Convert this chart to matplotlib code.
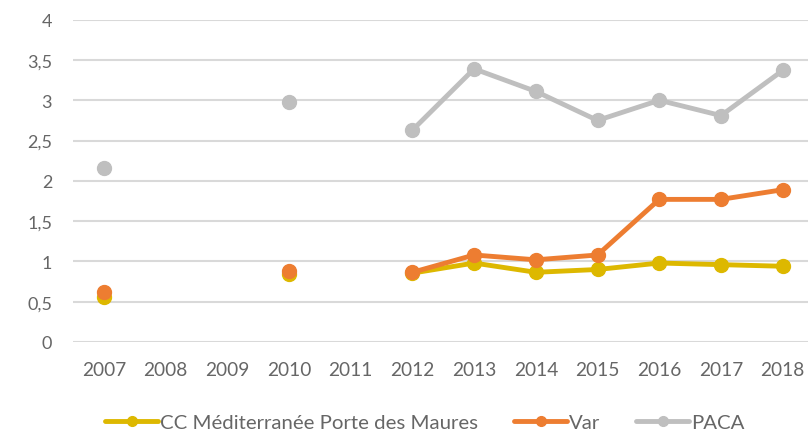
import numpy as np
import matplotlib.pyplot as plt

plt.rcParams['font.family'] = ['Lato', 'DejaVu Sans']

years = ['2007', '2008', '2009', '2010', '2011', '2012', '2013', '2014', '2015', '2016', '2017', '2018']
nan = np.nan
cc_mpm = [0.56, nan, nan, 0.84, nan, 0.855, 0.98, 0.865, 0.90, 0.98, 0.96, 0.94]
var = [0.62, nan, nan, 0.88, nan, 0.865, 1.08, 1.02, 1.08, 1.77, 1.77, 1.89]
paca = [2.16, nan, nan, 2.98, nan, 2.63, 3.39, 3.11, 2.75, 3.00, 2.81, 3.37]

series = [
    ('CC Méditerranée Porte des Maures', cc_mpm, '#DDB800'),
    ('Var', var, '#ED7D31'),
    ('PACA', paca, '#BFBFBF'),
]

fig = plt.figure(figsize=(8.08, 4.35), dpi=100)
ax = fig.add_axes([73 / 808, 92 / 435, (808 - 73) / 808, (343 - 20.7) / 435])

x = np.arange(len(years))
# ordre de tracé : PACA derrière, puis CC, puis Var au-dessus
for name, vals, col in [series[2], series[0], series[1]]:
    ax.plot(x, vals, color=col, lw=3.5, marker='o', ms=10, label=name,
            solid_capstyle='round')

ax.set_xlim(-0.5, 11.41)
ax.set_ylim(0, 4)
ax.set_yticks(np.arange(0, 4.01, 0.5))
ax.set_yticklabels(['0', '0,5', '1', '1,5', '2', '2,5', '3', '3,5', '4'])
ax.set_xticks(x)
ax.set_xticklabels(years)
ax.grid(axis='y', color='#D9D9D9', lw=1.5)
ax.set_axisbelow(True)
for s in ax.spines.values():
    s.set_visible(False)
ax.tick_params(axis='both', length=0, labelsize=13, colors='#666666')
ax.tick_params(axis='x', labelsize=13.8, pad=14)
ax.tick_params(axis='y', pad=15)

handles, labels = ax.get_legend_handles_labels()
order = [1, 2, 0]
leg = fig.legend([handles[i] for i in order], [labels[i] for i in order],
                 loc='center', bbox_to_anchor=(0.526, 0.026), ncol=3,
                 frameon=False, fontsize=14.7, handlelength=2.6,
                 handletextpad=0.1, columnspacing=1.75)
for t in leg.get_texts():
    t.set_color('#666666')
for h in leg.legend_handles:
    h.set_markersize(7)

fig.savefig('out.png', dpi=100)
